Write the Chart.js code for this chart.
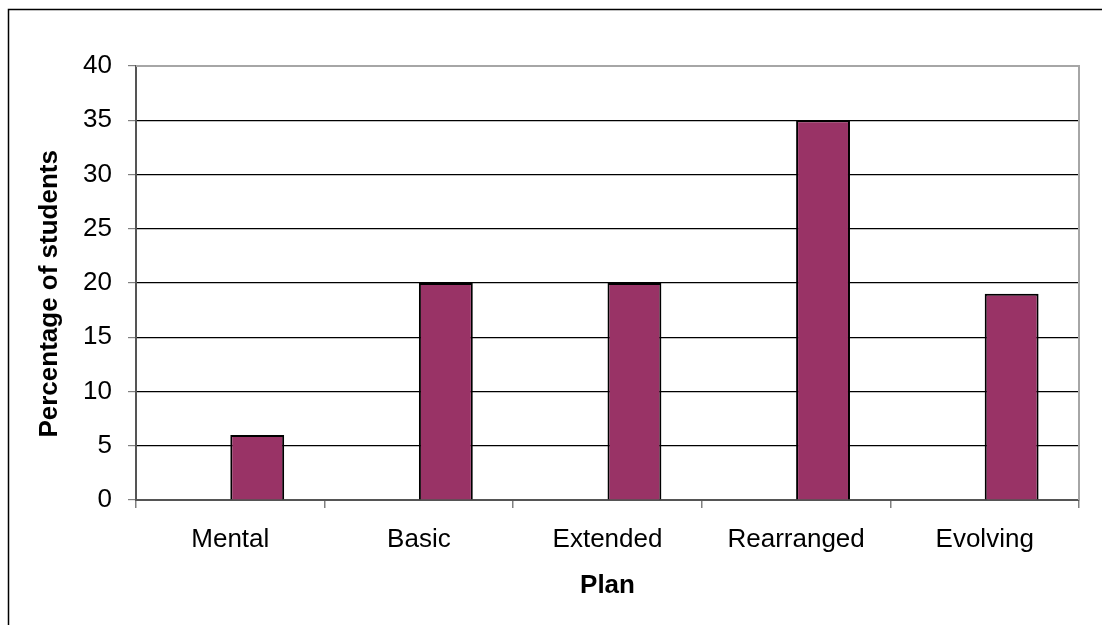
<!DOCTYPE html>
<html>
<head>
<meta charset="utf-8">
<script src="https://cdn.jsdelivr.net/npm/chart.js@4/dist/chart.umd.min.js"></script>
<style>
  html, body { margin: 0; padding: 0; background: #fff; }
  #wrap { position: relative; width: 1102px; height: 625px; }
</style>
</head>
<body>
<div id="wrap"><canvas id="c" width="1102" height="625"></canvas></div>
<script>
const categories = ["Mental", "Basic", "Extended", "Rearranged", "Evolving"];
const blankSeries = [null, null, null, null, null];
const percentages = [6, 20, 20, 35, 19];
const yTicks = [0, 5, 10, 15, 20, 25, 30, 35, 40];

const FONT = "'Liberation Sans', Arial, sans-serif";

const framePlugin = {
  id: 'frame',
  beforeDraw(chart) {
    const ctx = chart.ctx;
    ctx.save();
    ctx.fillStyle = '#fff';
    ctx.fillRect(0, 0, chart.width, chart.height);
    ctx.strokeStyle = '#000';
    ctx.lineWidth = 1.5;
    ctx.beginPath();
    ctx.moveTo(8.5, chart.height + 5);
    ctx.lineTo(8.5, 9.5);
    ctx.lineTo(chart.width + 5, 9.5);
    ctx.stroke();
    ctx.restore();
  },
  beforeDatasetsDraw(chart) {
    const a = chart.chartArea;
    const ctx = chart.ctx;
    ctx.save();
    ctx.strokeStyle = '#a6a6a6';
    ctx.lineWidth = 2;
    ctx.beginPath();
    ctx.moveTo(a.left, a.top);
    ctx.lineTo(a.right, a.top);
    ctx.lineTo(a.right, a.bottom);
    ctx.stroke();
    ctx.restore();
  }
};

new Chart(document.getElementById('c'), {
  type: 'bar',
  data: {
    labels: categories,
    datasets: [
      { label: 'Series 1', data: blankSeries, backgroundColor: '#993366', borderColor: '#000', borderWidth: 2 },
      { label: 'Series 2', data: percentages, backgroundColor: '#993366', borderColor: '#000', borderWidth: 2 }
    ]
  },
  options: {
    responsive: false,
    animation: false,
    devicePixelRatio: 1,
    layout: { padding: { left: 0, top: 66, right: 23, bottom: 0 } },
    plugins: { legend: { display: false }, tooltip: { enabled: false }, title: { display: false } },
    datasets: { bar: { categoryPercentage: 2 / 3.5, barPercentage: 1 } },
    scales: {
      x: {
        offset: true,
        grid: { offset: true, drawOnChartArea: false, drawTicks: true, tickLength: 8, tickColor: '#808080', lineWidth: 1.5 },
        border: { color: '#555', width: 2 },
        ticks: { color: '#000', font: { family: FONT, size: 26 }, padding: 16, maxRotation: 0 },
        title: { display: true, text: 'Plan', color: '#000', font: { family: FONT, size: 26, weight: 'bold' }, padding: { top: 0, bottom: 24 } },
        afterFit(s) { s.height = 125; }
      },
      y: {
        min: 0, max: 40,
        afterBuildTicks(s) { s.ticks = yTicks.map(v => ({ value: v })); },
        grid: {
          color: (c) => c.tick && c.tick.value === 40 ? '#a6a6a6' : '#000',
          lineWidth: 1.2,
          tickLength: 8,
          tickColor: '#808080'
        },
        border: { color: '#555', width: 2 },
        ticks: { color: '#000', font: { family: FONT, size: 26 }, padding: 16 },
        title: { display: true, text: 'Percentage of students   ', color: '#000', font: { family: FONT, size: 26, weight: 'bold' }, padding: { top: 34, bottom: 0 } },
        afterFit(s) { s.width = 136; }
      }
    }
  },
  plugins: [framePlugin]
});
</script>
</body>
</html>
